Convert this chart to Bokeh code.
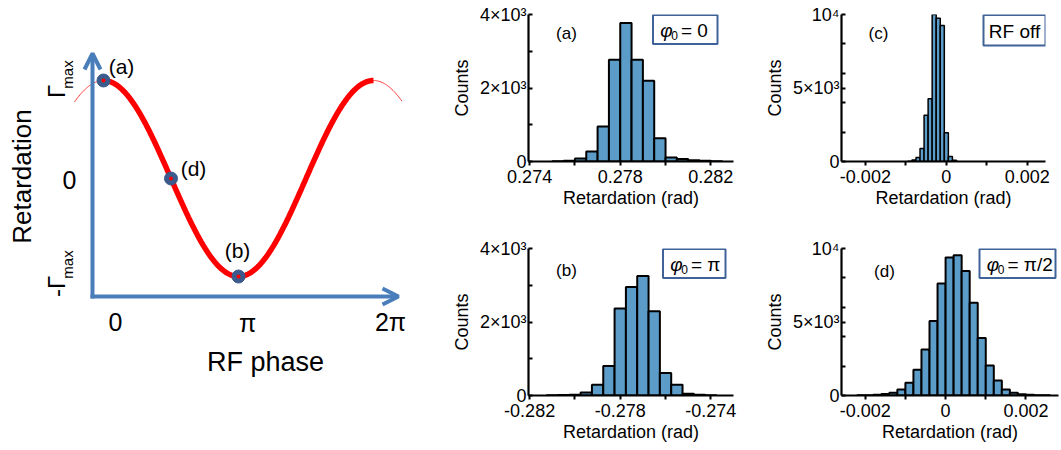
import numpy as np
from bokeh.plotting import figure
from bokeh.layouts import row, column
from bokeh.models import (Range1d, FixedTicker, Label, BoxAnnotation, Arrow,
                          OpenHead, CustomJSTickFormatter)
from bokeh.embed import file_html
from bokeh.resources import INLINE

FONT = "Liberation Sans"
BAR_FILL = "#5B9CC8"
BADGE_LINE = "#3F6399"
ARROW_BLUE = "#4A7EBB"
DOT_BLUE = "#3B5B8C"

# ---------------- data ----------------
# schematic: marked RF phases (units of pi) and their names
mark_phase = [0.0, 0.5, 1.0]
mark_text = ["(a)", "(d)", "(b)"]
schem_xtick_text = ["0", "π", "2π"]

# (a) phi0 = 0
a_centers = [0.27525, 0.27575, 0.27625, 0.27675, 0.27725, 0.27775, 0.27825,
             0.27875, 0.27925, 0.27975, 0.28025, 0.28075, 0.28125, 0.28175, 0.28225]
a_counts = [10, 20, 80, 270, 955, 2770, 3770, 2770, 2200, 630, 110, 65, 36, 18, 9]
# (b) phi0 = pi
b_centers = [-0.2810, -0.2805, -0.2800, -0.2795, -0.2790, -0.2785, -0.2780, -0.2775,
             -0.2770, -0.2765, -0.2760, -0.2755, -0.2750, -0.2745, -0.2740]
b_counts = [10, 15, 20, 81, 290, 804, 2366, 2953, 3250, 2294, 614, 290, 45, 20, 10]
# (c) RF off
c_centers = [-0.0009, -0.0008, -0.0007, -0.0006, -0.0005, -0.0004, -0.0003,
             -0.0002, -0.0001, 0.0, 0.0001, 0.0002]
c_counts = [20, 110, 270, 880, 3140, 4270, 10000, 9750, 9260, 1960, 340, 90]
# (d) phi0 = pi/2
d_centers = [-0.0021, -0.0019, -0.0017, -0.0015, -0.0013, -0.0011, -0.0009, -0.0007,
             -0.0005, -0.0003, -0.0001, 0.0001, 0.0003, 0.0005, 0.0007, 0.0009,
             0.0011, 0.0013, 0.0015, 0.0017, 0.0019, 0.0021, 0.0023, 0.0025]
d_counts = [10, 20, 45, 110, 182, 409, 864, 1750, 3136, 5068, 7614, 9386, 9545, 8477,
            6318, 3909, 2045, 1023, 409, 182, 90, 45, 20, 10]

# ticks
a_xticks, a_xminor, a_xlabels = [0.274, 0.278, 0.282], [0.276, 0.280], ["0.274", "0.278", "0.282"]
b_xticks, b_xminor, b_xlabels = [-0.282, -0.278, -0.274], [-0.280, -0.276], ["-0.282", "-0.278", "-0.274"]
cd_xticks, cd_xminor, cd_xlabels = [-0.002, 0.0, 0.002], [-0.001, 0.001], ["-0.002", "0", "0.002"]
ab_yticks, ab_yminor, ab_ylabels = [0, 2000, 4000], [1000, 3000], ["0", "2×10³", "4×10³"]
cd_yticks, cd_yminor, cd_ylabels = [0, 5000, 10000], [2000, 4000, 6000, 8000], ["0", "5×10³", "10⁴"]


# ---------------- schematic panel ----------------
def lx(px):
    return (px - 103) / 135.0


def ly(py):
    return (178 - py) / 98.0


left = figure(width=440, height=450, title=None, toolbar_location=None,
              output_backend="svg", x_range=Range1d(lx(0), lx(440)),
              y_range=Range1d(ly(450), ly(0)), x_axis_location=None,
              y_axis_location=None, min_border=0, outline_line_color=None)
left.grid.visible = False

ph_thin = np.linspace(-0.215, 2.21, 300)
left.line(ph_thin, np.cos(np.pi * ph_thin), line_color="#FF3B3B", line_width=1)
ph_thick = np.linspace(0, 2, 300)
left.line(ph_thick, np.cos(np.pi * ph_thick), line_color="#FF0000", line_width=5.5)

for (xs, ys, xe, ye) in [(lx(92), ly(298), lx(92), ly(53)), (lx(90), ly(296), lx(398), ly(296))]:
    left.add_layout(Arrow(x_start=xs, y_start=ys, x_end=xe, y_end=ye,
                          line_color=ARROW_BLUE, line_width=4,
                          end=OpenHead(line_color=ARROW_BLUE, line_width=4, size=16)))

mk_y = list(np.cos(np.pi * np.array(mark_phase)))
left.scatter(mark_phase, mk_y, size=13, fill_color=DOT_BLUE, line_color=DOT_BLUE)
left.scatter(mark_phase, mk_y, size=4, fill_color="#FF0000", line_color=None)


def ltext(txt, px, py, size, angle=0.0, align="center"):
    left.add_layout(Label(x=lx(px), y=ly(py), text=txt, text_font=FONT,
                          text_font_size=f"{size}px", text_align=align,
                          text_baseline="middle", angle=angle, text_color="black"))


for t, (px, py) in zip(mark_text, [(121, 66), (193, 168), (237, 250)]):
    ltext(t, px, py, 21)
for t, (px, py) in zip(schem_xtick_text, [(115, 321), (247, 322), (390, 321)]):
    ltext(t, px, py, 25)
ltext("0", 69, 179, 25)
ltext("Γ", 56, 91, 24, angle=np.pi / 2)
ltext("max", 67, 74, 15, angle=np.pi / 2)
ltext("-Γ", 56, 286, 24, angle=np.pi / 2)
ltext("max", 67, 264, 15, angle=np.pi / 2)
ltext("Retardation", 21, 176, 26, angle=np.pi / 2)
ltext("RF phase", 265, 361, 27)


# ---------------- histogram panels ----------------
def fmt(vals, labs):
    return CustomJSTickFormatter(args=dict(vals=vals, labs=labs), code="""
        let best = 0, bd = Infinity;
        for (let i = 0; i < vals.length; i++) {
            const d = Math.abs(vals[i] - tick);
            if (d < bd) { bd = d; best = i; }
        }
        return labs[best];""")


def make_hist(centers, counts, width, xr, yr, xt, xmn, xl, yt, ymn, yl,
              fw, fh, bl, br, bt, bb, frame_left, frame_top, bar_lw):
    p = figure(width=fw, height=fh, title=None, toolbar_location=None,
               output_backend="svg", x_range=Range1d(*xr), y_range=Range1d(*yr),
               min_border_left=bl, min_border_right=br, min_border_top=bt,
               min_border_bottom=bb, outline_line_color=None)
    p.grid.visible = False
    p.vbar(x=centers, width=width, top=counts, bottom=0, fill_color=BAR_FILL,
           line_color="black", line_width=bar_lw)
    xa, ya = p.xaxis[0], p.yaxis[0]
    xa.ticker = FixedTicker(ticks=xt, minor_ticks=xmn)
    xa.formatter = fmt(xt, xl)
    ya.ticker = FixedTicker(ticks=yt, minor_ticks=ymn)
    ya.formatter = fmt(yt, yl)
    for ax in (xa, ya):
        ax.axis_line_width = 2.2
        ax.axis_line_color = "black"
        ax.major_tick_line_width = 2
        ax.minor_tick_line_width = 2
        ax.major_tick_line_color = "black"
        ax.minor_tick_line_color = "black"
        ax.major_label_text_font = FONT
        ax.major_label_text_font_size = "18px"
        ax.major_label_text_color = "black"
        ax.axis_label_text_font = FONT
        ax.axis_label_text_font_size = "18px"
        ax.axis_label_text_font_style = "normal"
        ax.axis_label_text_color = "black"
    xa.major_tick_in, xa.major_tick_out = 0, 4
    xa.minor_tick_in, xa.minor_tick_out = 0, 4
    xa.major_label_standoff = 4
    xa.axis_label_standoff = 2
    xa.axis_label = "Retardation (rad)"
    ya.major_tick_in, ya.major_tick_out = 4, 0
    ya.minor_tick_in, ya.minor_tick_out = 4, 0
    ya.major_label_standoff = 2
    ya.axis_label_standoff = 5
    ya.axis_label = "Counts"
    iw, ih = fw - bl - br, fh - bt - bb

    def tx(px):
        return xr[0] + (px - frame_left) / iw * (xr[1] - xr[0])

    def ty(py):
        return yr[1] - (py - frame_top) / ih * (yr[1] - yr[0])

    p._tx, p._ty = tx, ty
    return p


def add_text(p, txt, px, py, size, style="normal", align="center"):
    p.add_layout(Label(x=p._tx(px), y=p._ty(py), text=txt, text_font=FONT,
                       text_font_size=f"{size}px", text_font_style=style,
                       text_align=align, text_baseline="middle", text_color="black"))


def add_badge(p, l, t, r, b, rest=None, plain=None):
    p.add_layout(BoxAnnotation(left=p._tx(l), right=p._tx(r), top=p._ty(t), bottom=p._ty(b),
                               fill_color="white", fill_alpha=1.0,
                               line_color=BADGE_LINE, line_width=2, line_alpha=1.0))
    cy = (t + b) / 2 + 1
    if plain is not None:
        add_text(p, plain, (l + r) / 2, cy, 19)
        return
    add_text(p, "φ", l + 13.5, cy, 19, style="italic")
    add_text(p, "0", l + 21.5, cy + 5, 12)
    add_text(p, rest, l + 28, cy, 19, align="left")


# figure geometry (page pixels): top row frames y 14..161, bottom row frames y 248..395
pa = make_hist(a_centers, a_counts, 0.0005, (0.27395, 0.283), (0, 4000),
               a_xticks, a_xminor, a_xlabels, ab_yticks, ab_yminor, ab_ylabels,
               310, 226, 88, 17, 14, 65, 528, 14, 2)
pc = make_hist(c_centers, c_counts, 0.0001, (-0.00259, 0.00245), (0, 10000),
               cd_xticks, cd_xminor, cd_xlabels, cd_yticks, cd_yminor, cd_ylabels,
               311, 226, 91, 16, 14, 65, 841, 14, 1.5)
pb = make_hist(b_centers, b_counts, 0.0005, (-0.28205, -0.273), (0, 4000),
               b_xticks, b_xminor, b_xlabels, ab_yticks, ab_yminor, ab_ylabels,
               310, 224, 88, 17, 22, 55, 528, 248, 2)
pd_ = make_hist(d_centers, d_counts, 0.0002, (-0.00259, 0.00281), (0, 10000),
                cd_xticks, cd_xminor, cd_xlabels, cd_yticks, cd_yminor, cd_ylabels,
                311, 224, 91, 3, 22, 55, 841, 248, 2)

add_text(pa, "(a)", 566, 33, 17)
add_text(pc, "(c)", 878, 33, 17)
add_text(pb, "(b)", 566, 270, 17)
add_text(pd_, "(d)", 884, 271, 17)

add_badge(pa, 652.5, 14.5, 717, 43.5, rest="= 0")
add_badge(pc, 983, 14.5, 1045, 45, plain="RF off")
add_badge(pb, 662.5, 248.5, 725, 277.5, rest="= π")
add_badge(pd_, 979, 248.5, 1055, 277.5, rest="= π/2")

layout = row(left, column(row(pa, pc, spacing=0), row(pb, pd_, spacing=0), spacing=0),
             spacing=0)

open("out.html", "w").write(file_html(layout, INLINE))
